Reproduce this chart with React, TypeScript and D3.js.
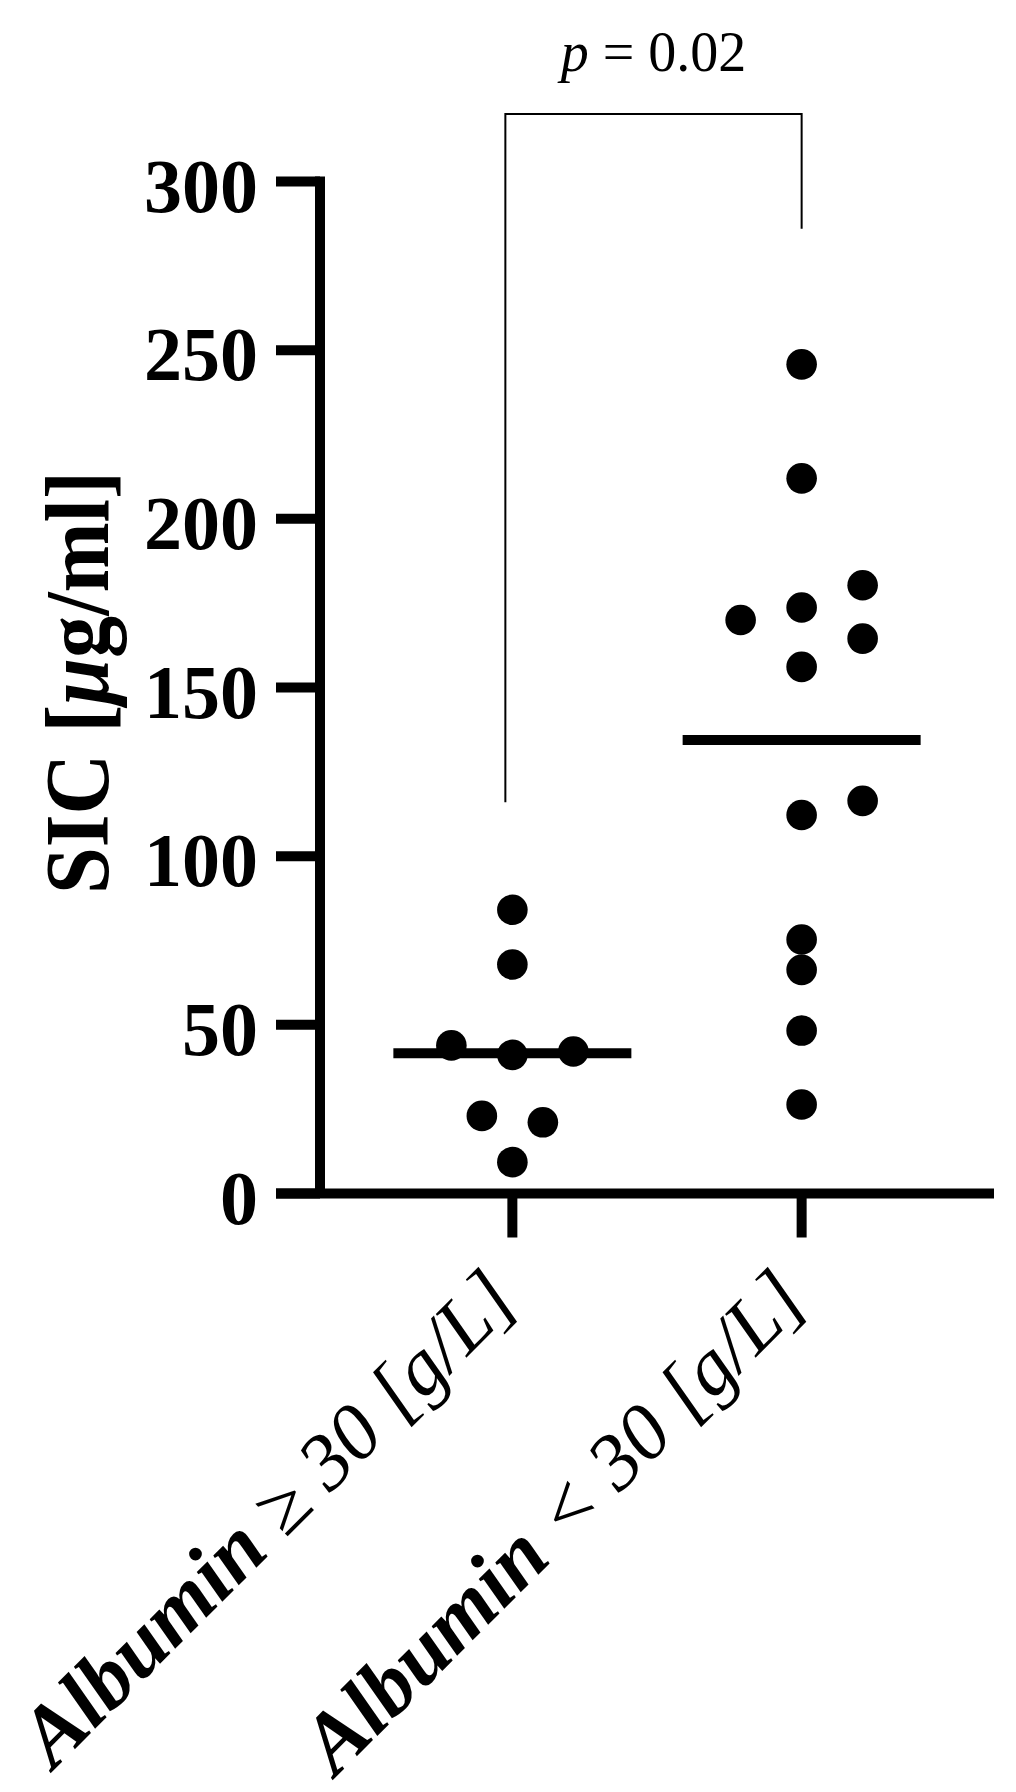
import React, { useEffect, useRef } from 'react'
import * as d3 from 'd3'

// groups on the x axis
const groups = ['Albumin ≥ 30 [g/L]', 'Albumin < 30 [g/L]']

// SIC values per group (µg/ml)
const highAlbumin = [84.1, 67.9, 43.9, 41.1, 42.1, 23.0, 21.1, 9.3]
const lowAlbumin = [245.8, 212.0, 180.3, 173.7, 170.0, 164.5, 156.1, 116.4, 112.2, 75.3, 66.3, 48.3, 26.4]

// scatter column of each dot (prism style spread, -2..2)
const highAlbuminCols = [0, 0, -2, 0, 2, -1, 1, 0]
const lowAlbuminCols = [0, 0, 2, 0, -2, 2, 0, 2, 0, 0, 0, 0, 0]

const yTicks = [0, 50, 100, 150, 200, 250, 300]
const yLabel = ['SIC [', 'μ', 'g/ml]']
const pValue = '0.02'
// bracket: left leg end, top, right leg end (in axis units)
const bracketLevels = [116, 320, 286]

export default function App() {
    const ref = useRef<SVGSVGElement>(null)

    useEffect(() => {
        drawChart()
    }, [])

    function drawChart() {
        const svg = d3.select(ref.current)
        svg.selectAll('*').remove()
        const font = '"Liberation Serif", "Times New Roman", serif'

        const y = d3.scaleLinear().domain([0, 300]).range([1193.5, 181.5])
        const x = d3.scalePoint<string>().domain(groups).range([320, 994]).padding(0.665)
        const spread = d3.scaleLinear().domain([-2, 2]).range([-61, 61])

        const axisX = 320
        const tickLen = 44
        const lw = 10

        // y axis line + ticks
        svg.append('line')
            .attr('x1', axisX).attr('x2', axisX)
            .attr('y1', y(300) - lw / 2).attr('y2', y(0))
            .attr('stroke', '#000').attr('stroke-width', lw)

        svg.selectAll('.ytick')
            .data(yTicks)
            .enter()
            .append('line')
            .attr('x1', axisX - tickLen).attr('x2', axisX)
            .attr('y1', d => y(d)).attr('y2', d => y(d))
            .attr('stroke', '#000').attr('stroke-width', lw)

        svg.selectAll('.ylab')
            .data(yTicks)
            .enter()
            .append('text')
            .attr('x', 258)
            .attr('y', d => y(d) + 30)
            .attr('text-anchor', 'end')
            .attr('font-family', font)
            .attr('font-weight', 'bold')
            .attr('font-size', 76)
            .text(d => d)

        // x axis line + ticks
        svg.append('line')
            .attr('x1', axisX - tickLen).attr('x2', 994)
            .attr('y1', y(0)).attr('y2', y(0))
            .attr('stroke', '#000').attr('stroke-width', lw)

        svg.selectAll('.xtick')
            .data(groups)
            .enter()
            .append('line')
            .attr('x1', d => x(d)!).attr('x2', d => x(d)!)
            .attr('y1', y(0)).attr('y2', y(0) + tickLen)
            .attr('stroke', '#000').attr('stroke-width', lw)

        // rotated group labels
        groups.forEach(g => {
            const [head, ...rest] = g.split(' ')
            const tx = x(g)! + 8
            const ty = y(0) + 110
            const t = svg.append('text')
                .attr('transform', `translate(${tx},${ty}) rotate(-45)`)
                .attr('text-anchor', 'end')
                .attr('font-family', font)
                .attr('font-style', 'italic')
                .attr('font-size', 80)
            t.append('tspan').attr('font-weight', 'bold').attr('font-size', 85).text(head)
            t.append('tspan').text(' ' + rest.join(' '))
        })

        // y axis title
        const yt = svg.append('text')
            .attr('transform', `translate(108,682.5) rotate(-90)`)
            .attr('text-anchor', 'middle')
            .attr('font-family', font)
            .attr('font-weight', 'bold')
            .attr('font-size', 90)
            .attr('textLength', 423)
            .attr('lengthAdjust', 'spacingAndGlyphs')
        yt.append('tspan').text(yLabel[0])
        yt.append('tspan').attr('font-style', 'italic').text(yLabel[1])
        yt.append('tspan').text(yLabel[2])

        // dots
        const series = [
            { g: groups[0], values: highAlbumin, cols: highAlbuminCols },
            { g: groups[1], values: lowAlbumin, cols: lowAlbuminCols },
        ]
        series.forEach(s => {
            svg.selectAll(null)
                .data(s.values)
                .enter()
                .append('circle')
                .attr('cx', (d, i) => x(s.g)! + spread(s.cols[i]))
                .attr('cy', d => y(d))
                .attr('r', 15.3)
                .attr('fill', '#000')

            // mean line
            const m = d3.mean(s.values)!
            svg.append('line')
                .attr('x1', x(s.g)! - 119).attr('x2', x(s.g)! + 119)
                .attr('y1', y(m)).attr('y2', y(m))
                .attr('stroke', '#000').attr('stroke-width', lw)
        })

        // significance bracket
        const bx0 = x(groups[0])! - 7
        const bx1 = x(groups[1])!
        const bracket = d3.path()
        bracket.moveTo(bx0, y(bracketLevels[0]))
        bracket.lineTo(bx0, y(bracketLevels[1]))
        bracket.lineTo(bx1, y(bracketLevels[1]))
        bracket.lineTo(bx1, y(bracketLevels[2]))
        svg.append('path')
            .attr('d', bracket.toString())
            .attr('fill', 'none')
            .attr('stroke', '#000')
            .attr('stroke-width', 2)

        const pt = svg.append('text')
            .attr('x', (bx0 + bx1) / 2)
            .attr('y', 70.7)
            .attr('text-anchor', 'middle')
            .attr('font-family', font)
            .attr('font-size', 56)
        pt.append('tspan').attr('font-style', 'italic').text('p')
        pt.append('tspan').text(' = ' + pValue)
    }

    return (
        <svg
            ref={ref}
            width={1016}
            height={1792}
            style={{ position: 'absolute', left: 0, top: 0, background: '#fff' }}
        />
    )
}
